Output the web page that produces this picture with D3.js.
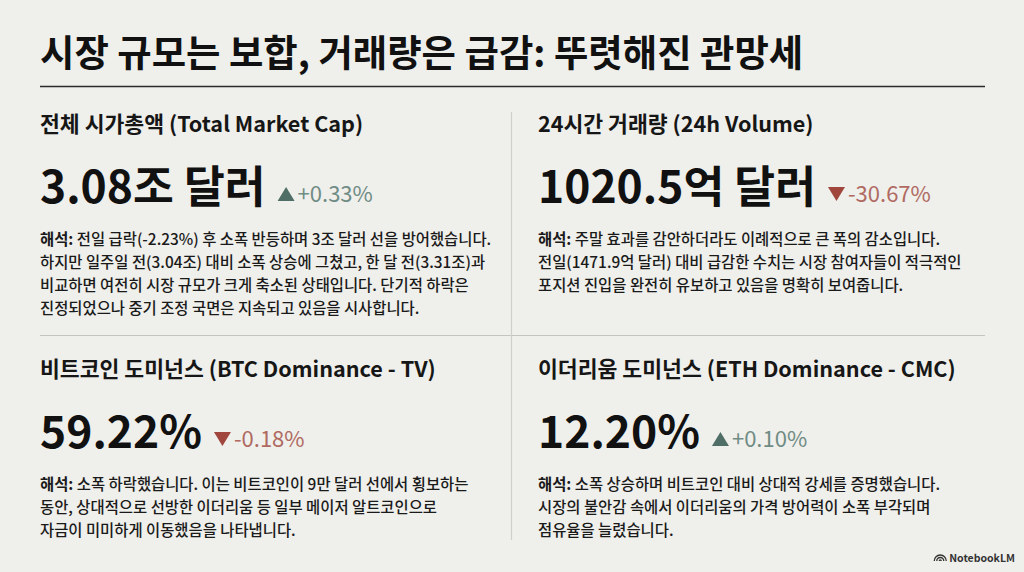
<!DOCTYPE html>
<html>
<head>
<meta charset="utf-8">
<script src="https://cdn.jsdelivr.net/npm/d3@7/dist/d3.min.js"></script>
<style>
  html, body { margin: 0; padding: 0; background: #efefeb; }
  svg { display: block; }
  text { font-family: "Noto Sans CJK KR", "Noto Sans", sans-serif; }
</style>
</head>
<body>
<svg id="chart" width="1024" height="572"></svg>
<script>
// ---- data ----
const title = "시장 규모는 보합, 거래량은 급감: 뚜렷해진 관망세";
const labels = [
  "전체 시가총액 (Total Market Cap)",
  "24시간 거래량 (24h Volume)",
  "비트코인 도미넌스 (BTC Dominance - TV)",
  "이더리움 도미넌스 (ETH Dominance - CMC)"
];
const values = [3.08, 1020.5, 59.22, 12.20];
const valueFormats = ["조 달러", "억 달러", "%", "%"];
const valueDigits = [2, 1, 2, 2];
const deltas = [0.33, -30.67, -0.18, 0.10];
const notePrefix = "해석:";
const notes = [
  [" 전일 급락(-2.23%) 후 소폭 반등하며 3조 달러 선을 방어했습니다.",
   "하지만 일주일 전(3.04조) 대비 소폭 상승에 그쳤고, 한 달 전(3.31조)과",
   "비교하면 여전히 시장 규모가 크게 축소된 상태입니다. 단기적 하락은",
   "진정되었으나 중기 조정 국면은 지속되고 있음을 시사합니다."],
  [" 주말 효과를 감안하더라도 이례적으로 큰 폭의 감소입니다.",
   "전일(1471.9억 달러) 대비 급감한 수치는 시장 참여자들이 적극적인",
   "포지션 진입을 완전히 유보하고 있음을 명확히 보여줍니다."],
  [" 소폭 하락했습니다. 이는 비트코인이 9만 달러 선에서 횡보하는",
   "동안, 상대적으로 선방한 이더리움 등 일부 메이저 알트코인으로",
   "자금이 미미하게 이동했음을 나타냅니다."],
  [" 소폭 상승하며 비트코인 대비 상대적 강세를 증명했습니다.",
   "시장의 불안감 속에서 이더리움의 가격 방어력이 소폭 부각되며",
   "점유율을 늘렸습니다."]
];
const brand = "NotebookLM";

// ---- layout ----
const svg = d3.select("#chart");
const W = 1024, H = 572;
const col = d3.scaleOrdinal().domain([0, 1]).range([40, 538]);
const row = d3.scaleOrdinal().domain([0, 1]).range([0, 245]);

const upText = "#6f8c85", upTri = "#4f6e66";
const dnText = "#b06a62", dnTri = "#a0463c";

svg.append("rect").attr("width", W).attr("height", H).attr("fill", "#efefeb");

// title
svg.append("text")
  .attr("x", 40).attr("y", 67)
  .attr("font-size", 37.4).attr("font-weight", 700).attr("fill", "#111")
  .text(title);

svg.append("line")
  .attr("x1", 40).attr("x2", 985).attr("y1", 86.5).attr("y2", 86.5)
  .attr("stroke", "#2b2b2b").attr("stroke-width", 1.6);

// dividers
svg.append("line")
  .attr("x1", 40).attr("x2", 985).attr("y1", 335.5).attr("y2", 335.5)
  .attr("stroke", "#c4c4c0").attr("stroke-width", 1.2);
svg.append("line")
  .attr("x1", 511.5).attr("x2", 511.5).attr("y1", 112).attr("y2", 540)
  .attr("stroke", "#cfcfcb").attr("stroke-width", 1.2);

const panels = labels.map((l, i) => ({
  label: l, value: values[i], fmt: valueFormats[i], digits: valueDigits[i],
  delta: deltas[i], note: notes[i], c: i % 2, r: Math.floor(i / 2)
}));

const g = svg.selectAll("g.panel").data(panels).join("g")
  .attr("class", "panel")
  .attr("transform", d => `translate(${col(d.c)},${row(d.r)})`);

g.append("text")
  .attr("x", 0).attr("y", 132)
  .attr("font-size", 21.6).attr("font-weight", 700).attr("fill", "#161616")
  .text(d => d.label);

g.append("text")
  .attr("class", "val")
  .attr("x", 0).attr("y", 203)
  .attr("font-size", 44.4).attr("font-weight", 700).attr("fill", "#111")
  .text(d => {
    const num = d.value.toFixed(d.digits);
    if (d.fmt === "%") return num + "%";
    const parts = d.fmt.split(" ");
    return num + parts[0] + " " + parts[1];
  });

g.each(function(d) {
  const sel = d3.select(this);
  const w = sel.select("text.val").node().getComputedTextLength();
  const x0 = w + 12;
  const up = d.delta >= 0;
  const triW = 17, triH = 14, base = 201;
  const tri = up
    ? [[x0, base], [x0 + triW, base], [x0 + triW / 2, base - triH]]
    : [[x0, base - triH], [x0 + triW, base - triH], [x0 + triW / 2, base]];
  sel.append("path")
    .attr("d", d3.line()(tri) + "Z")
    .attr("fill", up ? upTri : dnTri);
  sel.append("text")
    .attr("x", x0 + triW + 3).attr("y", 202)
    .attr("font-size", 22).attr("font-weight", 400)
    .attr("fill", up ? upText : dnText)
    .text((up ? "+" : "-") + Math.abs(d.delta).toFixed(2) + "%");
});

g.each(function(d) {
  const sel = d3.select(this);
  d.note.forEach((line, k) => {
    const t = sel.append("text")
      .attr("x", 0).attr("y", 245 + k * 23)
      .attr("font-size", 15.4).attr("font-weight", 500).attr("fill", "#1a1a1a");
    if (k === 0) {
      t.append("tspan").attr("font-weight", 700).text(notePrefix);
    }
    t.append("tspan").text(line);
  });
});

// brand mark
const bm = svg.append("g").attr("transform", "translate(1015,562)");
const bt = bm.append("text")
  .attr("x", 0).attr("y", 0)
  .attr("text-anchor", "end")
  .attr("font-size", 10.5).attr("font-weight", 700).attr("fill", "#333")
  .text(brand);
const bw = bt.node().getComputedTextLength();
bm.append("path")
  .attr("transform", `translate(${-bw - 15},-1)`)
  .attr("d", "M0,0 A6,6 0 0 1 12,0 M2.5,0 A3.5,3.5 0 0 1 9.5,0 M5,0 A1,1 0 0 1 7,0")
  .attr("fill", "none").attr("stroke", "#333").attr("stroke-width", 1.3);
</script>
</body>
</html>
